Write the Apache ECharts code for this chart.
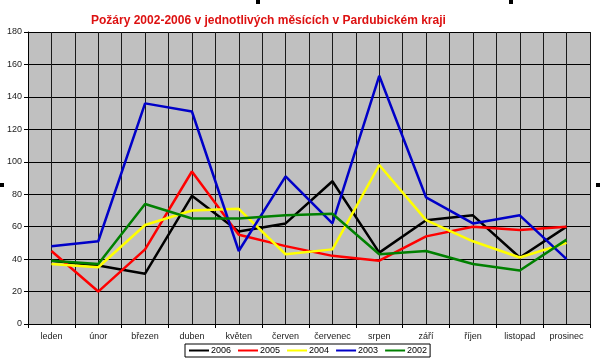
<!DOCTYPE html>
<html><head><meta charset="utf-8">
<script src="https://cdn.jsdelivr.net/npm/echarts@6/dist/echarts.min.js"></script>
<style>html,body{margin:0;padding:0;background:#fff}#c{width:600px;height:362px}</style>
</head><body><div id="c"></div>
<script>
const months = ['leden','únor','březen','duben','květen','červen','červenec','srpen','září','říjen','listopad','prosinec'];
const y2006 = [39,36,31,79,57,62,88,44,64,67,41,60];
const y2005 = [45,20,46,94,55,48,42,39,54,60,58,60];
const y2004 = [37,35,61,70,71,43,46,98,64,51,41,50];
const y2003 = [48,51,136,131,45,91,62,153,78,62,67,40];
const y2002 = [39,37,74,65,65,67,68,43,45,37,33,52];
const seriesNames = ['2006','2005','2004','2003','2002'];
const seriesColors = ['#000000','#ff0000','#ffff00','#0000c8','#008000'];
const seriesData = [y2006,y2005,y2004,y2003,y2002];
const yTicks = {min:0,max:180,interval:20};

const chart = echarts.init(document.getElementById('c'));
const handle = (x,y)=>({type:'rect',shape:{x:x,y:y,width:4,height:4},style:{fill:'#000'}});
chart.setOption({
  animation:false,
  backgroundColor:'#fff',
  title:{text:'Požáry 2002-2006 v jednotlivých měsících v Pardubickém kraji',left:86,top:10,
    textStyle:{color:'#dd1111',fontFamily:'Liberation Sans, Arial',fontWeight:'bold',fontSize:12}},
  graphic:[handle(256,0),handle(509,0),handle(596,183),handle(0,183)],
  legend:{data:seriesNames,left:185,top:344,itemGap:7,itemWidth:20,itemHeight:2,icon:'rect',
    borderColor:'#000',borderWidth:1,padding:[2,3,2,4],
    textStyle:{fontFamily:'Liberation Sans, Arial',fontSize:9,color:'#000',padding:[0,0,0,-3]}},
  grid:{left:28,right:10,top:32,bottom:38,show:true,backgroundColor:'#c0c0c0',borderWidth:0},
  xAxis:[{type:'category',data:months,boundaryGap:true,
    axisLine:{lineStyle:{color:'#000',width:1}},
    axisTick:{show:true,length:4,lineStyle:{color:'#000'}},
    axisLabel:{interval:0,fontFamily:'Liberation Sans, Arial',fontSize:9,color:'#222',margin:8},
    splitLine:{show:false}},
   {type:'value',min:0,max:12,interval:0.5,position:'bottom',show:true,
    axisLine:{show:false},axisTick:{show:false},axisLabel:{show:false},
    splitLine:{show:true,lineStyle:{color:'#1a1a1a',width:1}}}],
  yAxis:{type:'value',min:yTicks.min,max:yTicks.max,interval:yTicks.interval,
    axisLine:{show:true,lineStyle:{color:'#000'}},
    axisTick:{show:true,length:4,lineStyle:{color:'#000'}},
    axisLabel:{fontFamily:'Liberation Sans, Arial',fontSize:9,color:'#222',margin:6},
    splitLine:{show:true,lineStyle:{color:'#000',width:1}}},
  series:seriesNames.map((n,i)=>({name:n,type:'line',xAxisIndex:0,data:seriesData[i],
    symbol:'none',lineStyle:{color:seriesColors[i],width:2.5},itemStyle:{color:seriesColors[i]}}))
});
</script></body></html>
